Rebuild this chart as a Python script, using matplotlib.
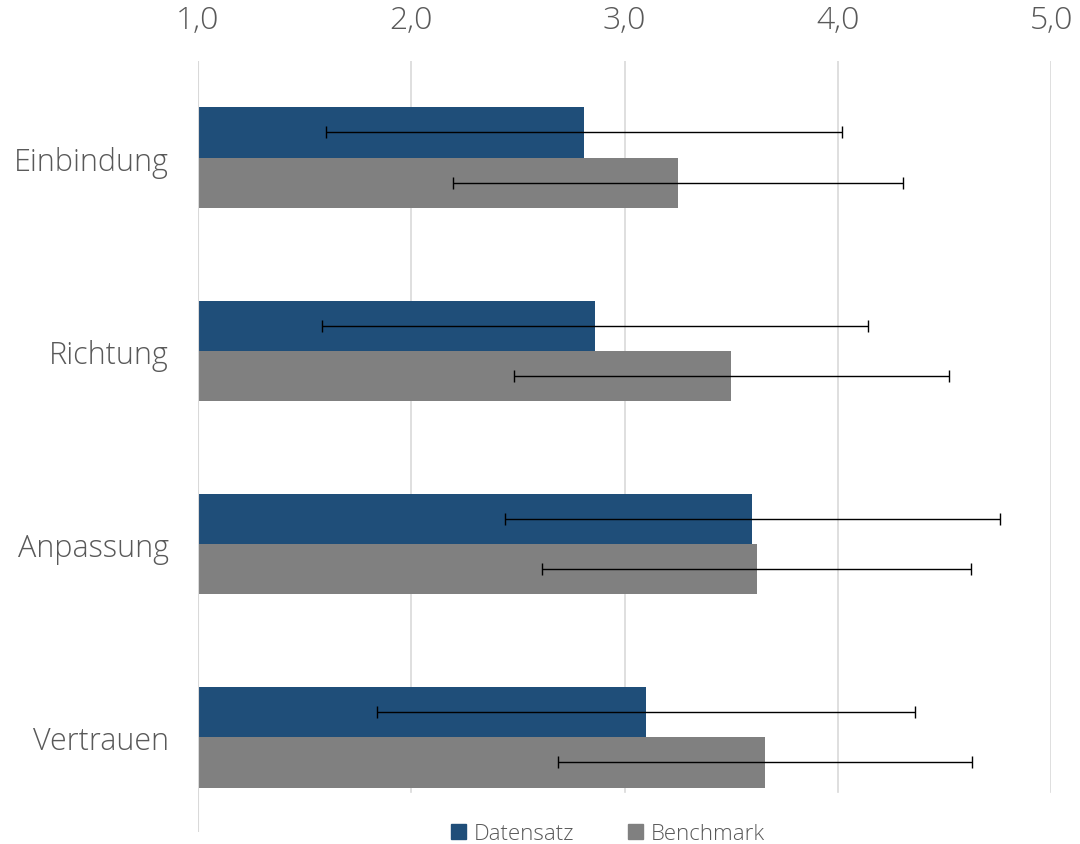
import numpy as np
import matplotlib
matplotlib.use("Agg")
import matplotlib.pyplot as plt
from matplotlib.patches import Patch
from matplotlib.ticker import FuncFormatter

categories = ["Einbindung", "Richtung", "Anpassung", "Vertrauen"]
datensatz = [2.81, 2.86, 3.60, 3.10]
datensatz_sd = [1.21, 1.28, 1.16, 1.26]
benchmark = [3.25, 3.50, 3.62, 3.66]
benchmark_sd = [1.055, 1.02, 1.005, 0.97]
series_names = ["Datensatz", "Benchmark"]

blue = "#1f4e79"
grey = "#808080"
text_col = "#595959"

plt.rcParams["font.family"] = ["Open Sans", "DejaVu Sans"]
plt.rcParams["font.weight"] = "light"

fig = plt.figure(figsize=(10.8, 8.45), dpi=100)
ax = fig.add_axes([198 / 1080, 1 - 833 / 845, (1051 - 198) / 1080, (833 - 62) / 845])

y = np.arange(len(categories))
h = 0.26
base = 1.0
err_kw = dict(ecolor="black", elinewidth=1.0, capsize=4, capthick=1.0)

ax.barh(y - h / 2, np.array(datensatz) - base, height=h, left=base, color=blue,
        xerr=datensatz_sd, error_kw=err_kw, zorder=2)
ax.barh(y + h / 2, np.array(benchmark) - base, height=h, left=base, color=grey,
        xerr=benchmark_sd, error_kw=err_kw, zorder=2)

ax.set_xlim(1.0, 5.0)
ax.set_ylim(3.49, -0.5)

# gridlines (stop above the legend), left axis line full height
for xv in [2.0, 3.0, 4.0, 5.0]:
    ax.axvline(xv, ymin=0.052, ymax=1, color="#d9d9d9", lw=1.2, zorder=0)
ax.axvline(1.0, color="#d9d9d9", lw=1.5, zorder=3)

for s in ax.spines.values():
    s.set_visible(False)

ax.xaxis.tick_top()
ax.set_xticks([1, 2, 3, 4, 5])
ax.xaxis.set_major_formatter(FuncFormatter(lambda v, p: f"{v:.1f}".replace(".", ",")))
ax.tick_params(axis="x", length=0, pad=18, labelsize=23, labelcolor=text_col)
ax.set_yticks(y)
ax.set_yticklabels(categories)
ax.tick_params(axis="y", length=0, pad=21, labelsize=22, labelcolor=text_col)

handles = [Patch(color=blue), Patch(color=grey)]
fig.legend(handles, series_names, loc="lower center", bbox_to_anchor=(0.563, -0.024),
           ncol=2, frameon=False, fontsize=16, labelcolor=text_col,
           handlelength=0.7, handleheight=0.7, handletextpad=0.35, columnspacing=2.4)

fig.savefig("out.png", dpi=100)
